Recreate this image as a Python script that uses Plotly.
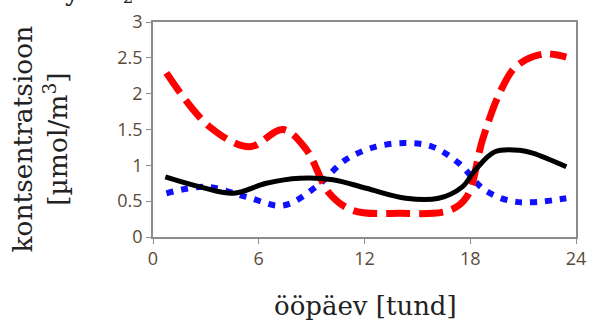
import plotly.graph_objects as go

# Red dashed series
red_x = [0.76, 3.2, 5.48, 7.37, 8.7, 10.0, 11.35, 14.0, 16.8, 17.8, 18.7, 19.67, 20.6, 22.1, 23.45]
red_y = [2.29, 1.54, 1.26, 1.50, 1.22, 0.61, 0.37, 0.33, 0.37, 0.56, 1.36, 2.01, 2.38, 2.55, 2.51]

# Blue dotted series
blue_x = [0.76, 3.0, 5.3, 7.37, 9.25, 10.95, 12.65, 14.35, 15.85, 17.35, 18.86, 20.6, 23.45]
blue_y = [0.61, 0.70, 0.56, 0.44, 0.70, 1.08, 1.26, 1.31, 1.26, 1.03, 0.65, 0.49, 0.54]

# Black solid series
black_x = [0.7, 2.68, 4.57, 6.43, 8.32, 10.2, 12.1, 14.35, 16.2, 17.55, 18.3, 19.4, 20.8, 21.55, 23.45]
black_y = [0.84, 0.70, 0.61, 0.75, 0.82, 0.80, 0.68, 0.54, 0.54, 0.70, 0.94, 1.19, 1.21, 1.17, 0.98]

x_ticks = [0, 6, 12, 18, 24]
y_ticks = [0, 0.5, 1, 1.5, 2, 2.5, 3]
y_tick_labels = ["0", "0.5", "1", "1.5", "2", "2.5", "3"]

fig = go.Figure()
fig.add_trace(go.Scatter(x=blue_x, y=blue_y, mode="lines",
                         line=dict(color="#1010ff", width=6, dash="7px,8px", shape="spline")))
fig.add_trace(go.Scatter(x=red_x, y=red_y, mode="lines",
                         line=dict(color="#ff0000", width=7, dash="24px,9px", shape="spline")))
fig.add_trace(go.Scatter(x=black_x, y=black_y, mode="lines",
                         line=dict(color="#000000", width=5, shape="spline")))

axis_common = dict(showgrid=False, zeroline=False, showline=True, linecolor="#8c8c8c",
                   linewidth=1.5, mirror=True, ticks="outside", ticklen=5, tickcolor="#8c8c8c",
                   tickfont=dict(family="Open Sans, sans-serif", size=18, color="#5a4a3a"))

serif = "DejaVu Serif, serif"
fig.update_layout(
    width=589, height=327,
    margin=dict(l=153, r=13, t=22, b=90, autoexpand=False),
    paper_bgcolor="white", plot_bgcolor="white",
    showlegend=False,
    xaxis=dict(range=[0, 24], tickvals=x_ticks, automargin=False, **axis_common),
    yaxis=dict(range=[0, 3], tickvals=y_ticks, ticktext=y_tick_labels, automargin=False, **axis_common),
    annotations=[
        dict(text="ööpäev [tund]", xref="paper", yref="paper", x=(365 - 153) / 423,
             y=(237 - 306) / 214, xanchor="center", yanchor="middle", showarrow=False,
             font=dict(family=serif, size=26, color="#222222")),
        dict(text="kontsentratsioon<br>[µmol/m<sup>3</sup>]", xref="paper", yref="paper",
             x=(40 - 153) / 423, y=(237 - 140) / 214, xanchor="center", yanchor="middle",
             textangle=-90, showarrow=False,
             font=dict(family=serif, size=26.5, color="#222222")),
        dict(text="y", xref="paper", yref="paper", x=(72 - 153) / 423, y=1 + 30 / 214,
             xanchor="center", yanchor="middle", showarrow=False,
             font=dict(family=serif, size=26, color="#222222")),
        dict(text="2", xref="paper", yref="paper", x=(128 - 153) / 423, y=1 + 24 / 214,
             xanchor="center", yanchor="middle", showarrow=False,
             font=dict(family=serif, size=16, color="#222222")),
    ],
)

fig.write_html("out.html", config={"displayModeBar": False},
               post_script="document.body.style.margin='0';")
